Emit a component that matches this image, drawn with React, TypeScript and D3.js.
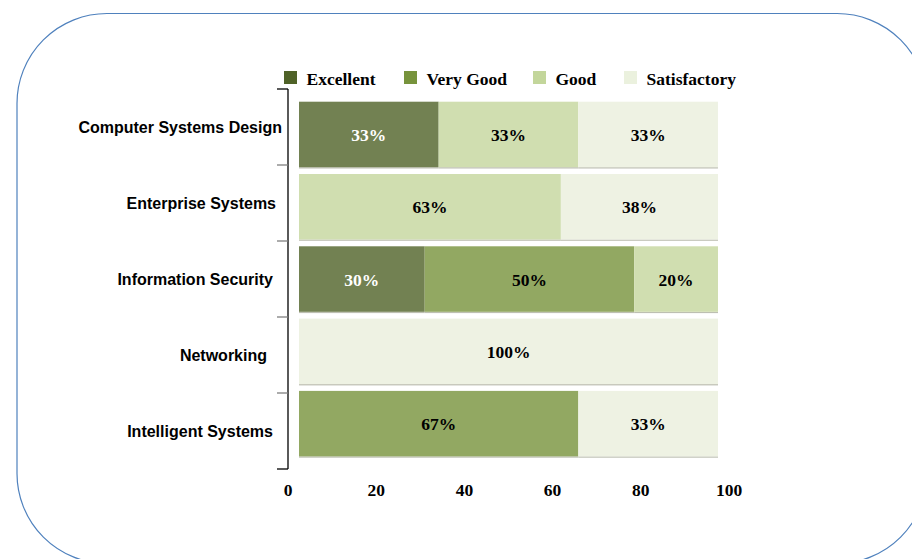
import React from "react";
import * as d3 from "d3";

const categories = [
  "Computer Systems Design",
  "Enterprise Systems",
  "Information Security",
  "Networking",
  "Intelligent Systems",
];
const seriesNames = ["Excellent", "Very Good", "Good", "Satisfactory"];
const excellent = [33.33, 0, 30, 0, 0];
const veryGood = [0, 0, 50, 0, 66.67];
const good = [33.33, 62.5, 20, 0, 0];
const satisfactory = [33.33, 37.5, 0, 100, 33.33];
const xTicks = [0, 20, 40, 60, 80, 100];

const legendColors = ["#4F6228", "#77933C", "#C3D69B", "#EBF1DE"];
const barColors = ["#728152", "#92A862", "#D0DEB0", "#EEF2E3"];
const labelColors = ["#ffffff", "#000000", "#000000", "#000000"];
// layout: right edge of each category label (reference places them unevenly)
const labelRightEdge = [282, 276, 273, 267, 273];

const W = 912;
const H = 559;

export default function App() {
  const seriesValues = [excellent, veryGood, good, satisfactory];
  const rows = categories.map((c, i) => {
    const r: any = { category: c };
    seriesNames.forEach((s, k) => (r[s] = seriesValues[k][i]));
    return r;
  });
  const stack = d3.stack().keys(seriesNames)(rows as any);

  const xBar = d3.scaleLinear().domain([0, 100]).range([299, 718]);
  const xAxis = d3.scaleLinear().domain([0, 100]).range([288, 729]);
  const yAxis = d3.scaleBand().domain(categories).range([89, 469]).padding(0);
  const yBar = d3
    .scaleBand()
    .domain(categories)
    .range([101.7, 456.4])
    .paddingInner(0.094)
    .paddingOuter(0);

  const serif = "'Liberation Serif', 'Times New Roman', serif";
  const sans = "'Liberation Sans', Arial, sans-serif";

  const legendX = [284, 404, 533, 624];

  const boundaries = [...categories.map((c) => yAxis(c) as number), 469];

  return (
    <svg
      width={W}
      height={H}
      style={{ position: "absolute", left: 0, top: 0 }}
      xmlns="http://www.w3.org/2000/svg"
    >
      <rect x={0} y={0} width={W} height={H} fill="#ffffff" />
      <rect
        x={17}
        y={13.5}
        width={910}
        height={550}
        rx={90}
        ry={90}
        fill="none"
        stroke="#4F81BD"
        strokeWidth={1.2}
      />

      {/* Legend */}
      {seriesNames.map((s, k) => (
        <g key={s}>
          <rect x={legendX[k]} y={71} width={13} height={13} fill={legendColors[k]} />
          <text
            x={legendX[k] + 22.5}
            y={85}
            fontFamily={serif}
            fontWeight="bold"
            fontSize={17.5}
            fill="#000"
          >
            {s}
          </text>
        </g>
      ))}

      {/* Bars */}
      {stack.map((layer, k) => (
        <g key={seriesNames[k]}>
          {layer.map((d, i) => {
            const v = d[1] - d[0];
            if (v <= 0) return null;
            const x0 = xBar(d[0]);
            const x1 = xBar(d[1]);
            const y = yBar(categories[i]) as number;
            const h = yBar.bandwidth();
            return (
              <g key={i}>
                <rect x={x0} y={y + h} width={x1 - x0} height={1.3} fill="#bdbfb2" />
                <rect x={x0} y={y} width={x1 - x0} height={h} fill={barColors[k]} />
                <text
                  x={(x0 + x1) / 2}
                  y={y + h / 2 + 6.5}
                  textAnchor="middle"
                  fontFamily={serif}
                  fontWeight="bold"
                  fontSize={17.5}
                  fill={labelColors[k]}
                >
                  {Math.round(v) + "%"}
                </text>
              </g>
            );
          })}
        </g>
      ))}

      {/* Y axis */}
      <line x1={288} x2={288} y1={89} y2={469} stroke="#000" strokeWidth={1.3} />
      {boundaries.map((b, i) => (
        <line
          key={i}
          x1={277}
          x2={288}
          y1={b}
          y2={b}
          stroke={i === 0 || i === boundaries.length - 1 ? "#000" : "#7f7f7f"}
          strokeWidth={1.3}
        />
      ))}
      {categories.map((c, i) => (
        <text
          key={c}
          x={labelRightEdge[i]}
          y={(yAxis(c) as number) + yAxis.bandwidth() / 2 + 5.5}
          textAnchor="end"
          fontFamily={sans}
          fontWeight="bold"
          fontSize={16}
          fill="#000"
        >
          {c}
        </text>
      ))}

      {/* X axis labels */}
      {xTicks.map((t) => (
        <text
          key={t}
          x={xAxis(t)}
          y={496}
          textAnchor="middle"
          fontFamily={serif}
          fontWeight="bold"
          fontSize={17.5}
          fill="#000"
        >
          {t}
        </text>
      ))}
    </svg>
  );
}
